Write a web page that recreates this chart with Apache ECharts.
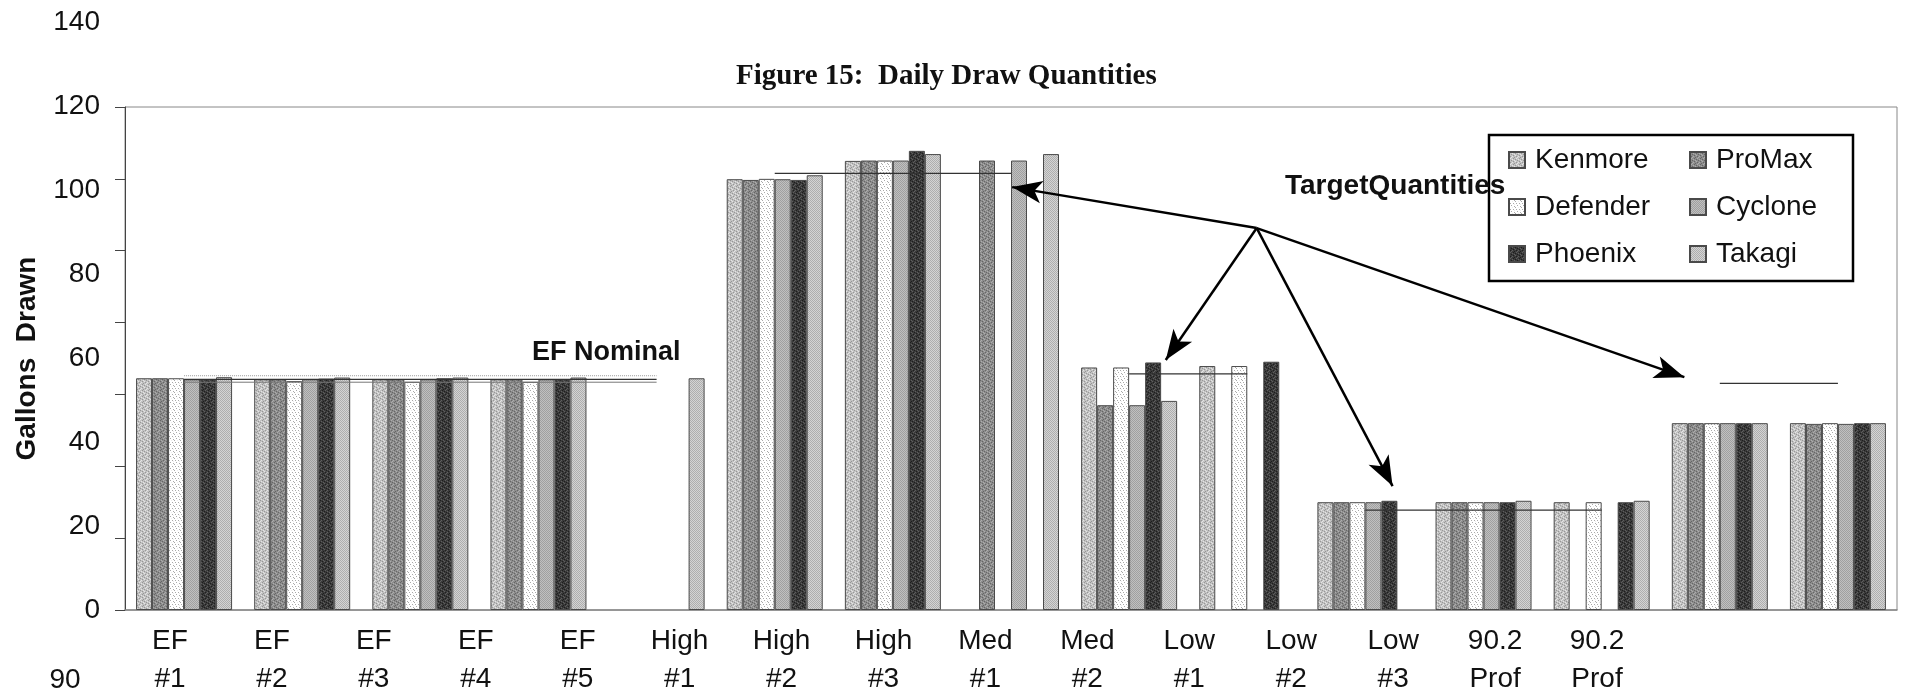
<!DOCTYPE html>
<html>
<head>
<meta charset="utf-8">
<title>Daily Draw Quantities</title>
<script src="https://cdn.jsdelivr.net/npm/echarts@6/dist/echarts.min.js"></script>
<style>
  html, body { margin: 0; padding: 0; background: #fff; }
  #chart { width: 1909px; height: 700px; }
</style>
</head>
<body>
<div id="chart"></div>
<script>
// test names, as printed under the axis
var categories = ['EF\n#1', 'EF\n#2', 'EF\n#3', 'EF\n#4', 'EF\n#5', 'High\n#1', 'High\n#2', 'High\n#3',
  'Med\n#1', 'Med\n#2', 'Low\n#1', 'Low\n#2', 'Low\n#3', '90.2\nProf', '90.2\nProf'];

// gallons drawn per heater
var kenmore  = [64.5, 64.2, 64.2, 64.2, null, 119.9, 125.0, null, 67.5, 67.9, 30.0, 30.0, 30.0, 52.0, 52.0];
var promax   = [64.5, 64.2, 64.2, 64.2, null, 119.7, 125.1, 125.1, 57.0, null, 30.0, 30.0, null, 52.0, 51.8];
var defender = [64.5, 63.7, 63.5, 63.5, null, 120.0, 125.1, null, 67.5, 67.9, 30.0, 30.0, 30.0, 52.0, 52.0];
var cyclone  = [64.2, 64.2, 64.2, 64.2, null, 119.9, 125.1, 125.1, 57.0, null, 30.0, 30.0, null, 52.0, 51.8];
var phoenix  = [64.2, 64.4, 64.5, 64.2, null, 119.7, 127.8, null, 68.9, 69.1, 30.4, 30.0, 30.0, 52.0, 52.0];
var takagi   = [64.8, 64.7, 64.7, 64.7, 64.5, 121.0, 126.9, 126.9, 58.2, null, null, 30.4, 30.4, 52.0, 52.0];

// target quantity lines (category index from / to, gallons)
var targetFrom  = [0, 0, 0, 5, 8, 10, 13];
var targetTo    = [4, 4, 4, 7, 9, 12, 14];
var targetValue = [65.2, 64.2, 63.4, 121.5, 65.7, 27.8, 63.1];

// annotation arrows, in axis units (x counted in categories)
var arrowFrom = [9.58, 106.3];
var arrowTipX = [7.51, 8.81, 10.73, 13.20];
var arrowTipY = [117.7, 69.6, 34.5, 64.8];

var yTicks = [0, 140, 20];

// small repeating tile to mimic the stippled print fills
function tile(pal, map) {
  var n = map.length;
  var c = document.createElement('canvas');
  c.width = n; c.height = n;
  var g = c.getContext('2d');
  for (var y = 0; y < n; y++) {
    for (var x = 0; x < n; x++) {
      g.fillStyle = pal[map[y][x]];
      g.fillRect(x, y, 1, 1);
    }
  }
  return { image: c, repeat: 'repeat' };
}

var stipple = [
  [0, 1, 0, 0, 2, 0],
  [2, 0, 0, 1, 0, 0],
  [0, 0, 2, 0, 0, 1],
  [1, 0, 0, 0, 2, 0],
  [0, 2, 0, 1, 0, 0],
  [0, 0, 1, 0, 0, 2]
];
var checker = [
  [0, 1, 0, 1, 0, 1],
  [1, 0, 1, 0, 1, 0],
  [0, 1, 0, 1, 0, 1],
  [1, 0, 1, 0, 1, 0],
  [0, 1, 0, 1, 0, 1],
  [1, 0, 1, 0, 1, 0]
];
var sparse = [
  [0, 0, 2, 0, 0, 0],
  [0, 0, 0, 0, 0, 2],
  [2, 0, 0, 1, 0, 0],
  [0, 0, 0, 0, 0, 0],
  [0, 2, 0, 0, 2, 0],
  [0, 0, 0, 0, 0, 1]
];

var fills = [
  tile(['#c2c2c2', '#e4e4e4', '#979797'], stipple),
  tile(['#8c8c8c', '#adadad', '#666666'], stipple),
  tile(['#ffffff', '#ececec', '#aaaaaa'], sparse),
  tile(['#a0a0a0', '#c0c0c0', '#888888'], checker),
  tile(['#3a3a3a', '#5e5e5e', '#1e1e1e'], stipple),
  tile(['#aeaeae', '#d4d4d4', '#989898'], checker)
];

var names = ['Kenmore', 'ProMax', 'Defender', 'Cyclone', 'Phoenix', 'Takagi'];
var values = [kenmore, promax, defender, cyclone, phoenix, takagi];

var series = [];
names.forEach(function (n, i) {
  series.push({
    name: n,
    type: 'bar',
    xAxisIndex: 0,
    yAxisIndex: 0,
    barWidth: 16,
    barGap: '0%',
    data: values[i],
    itemStyle: { color: fills[i], borderColor: '#4a4a4a', borderWidth: 1 }
  });
});

var lineLook = [
  { color: '#999', width: 1, type: 'dotted' },
  { color: '#333', width: 1.2, type: 'solid' },
  { color: '#777', width: 1, type: 'solid' },
  { color: '#333', width: 1.2, type: 'solid' },
  { color: '#333', width: 1.2, type: 'solid' },
  { color: '#333', width: 1.2, type: 'solid' },
  { color: '#333', width: 1.2, type: 'solid' }
];
targetValue.forEach(function (v, i) {
  series.push({
    name: 'target' + i,
    type: 'line',
    xAxisIndex: 0,
    yAxisIndex: 0,
    symbol: 'none',
    silent: true,
    z: 3,
    lineStyle: lineLook[i],
    data: [[targetFrom[i], v], [targetTo[i], v]]
  });
});

series.push({
  name: 'arrows',
  type: 'line',
  xAxisIndex: 1,
  yAxisIndex: 0,
  data: [],
  markLine: {
    silent: true,
    symbol: ['none', 'arrow'],
    symbolSize: [17, 30],
    label: { show: false },
    lineStyle: { color: '#000', width: 2.5, type: 'solid' },
    data: arrowTipX.map(function (x, i) {
      return [{ coord: arrowFrom }, { coord: [x, arrowTipY[i]] }];
    })
  }
});

var chart = echarts.init(document.getElementById('chart'), null, { renderer: 'canvas' });

chart.setOption({
  animation: false,
  backgroundColor: '#fff',
  textStyle: { fontFamily: 'Liberation Sans, Arial, sans-serif' },
  title: {
    text: 'Figure 15:  Daily Draw Quantities',
    left: 731,
    top: 57,
    textStyle: { fontFamily: 'Liberation Serif, Times New Roman, serif', fontWeight: 'bold', fontSize: 29, color: '#111' }
  },
  legend: [{
    data: ['Kenmore', 'Defender', 'Phoenix'],
    orient: 'vertical',
    left: 1508,
    top: 145,
    padding: 0,
    itemWidth: 16,
    itemHeight: 16,
    itemGap: 17,
    icon: 'rect',
    textStyle: { fontSize: 28, color: '#111', lineHeight: 30, padding: [0, 0, 0, 5] }
  }, {
    data: ['ProMax', 'Cyclone', 'Takagi'],
    orient: 'vertical',
    left: 1689,
    top: 145,
    padding: 0,
    itemWidth: 16,
    itemHeight: 16,
    itemGap: 17,
    icon: 'rect',
    textStyle: { fontSize: 28, color: '#111', lineHeight: 30, padding: [0, 0, 0, 5] }
  }],
  grid: [
    { left: 125, right: 12, top: 107, bottom: 90, show: true, borderColor: '#888', borderWidth: 1 },
    { left: 119, right: 261, top: 107, bottom: 90 },
    { left: 125, right: 12, top: 22, bottom: 90 }
  ],
  xAxis: [
    {
      type: 'category', gridIndex: 0, data: categories,
      axisLine: { lineStyle: { color: '#888', width: 1.5 } },
      axisTick: { length: 8, lineStyle: { color: '#777' } },
      axisLabel: { show: false }
    },
    { type: 'value', gridIndex: 0, min: 0, max: 15, show: false },
    {
      type: 'category', gridIndex: 1, data: categories,
      axisLine: { show: false }, axisTick: { show: false },
      axisLabel: { fontSize: 28, color: '#111', lineHeight: 38, margin: 12, interval: 0 }
    },
    { type: 'value', gridIndex: 2, show: false }
  ],
  yAxis: [
    {
      type: 'value', gridIndex: 0, min: yTicks[0], max: yTicks[1], interval: yTicks[2],
      name: 'Gallons  Drawn', nameLocation: 'middle', nameGap: 84,
      nameTextStyle: { fontSize: 28, fontWeight: 'bold', color: '#111' },
      axisLine: { show: true, lineStyle: { color: '#444' } },
      axisTick: { show: true, length: 10, lineStyle: { color: '#444' } },
      axisLabel: { show: false },
      splitLine: { show: false }
    },
    { type: 'value', gridIndex: 1, show: false },
    {
      type: 'value', gridIndex: 2, min: yTicks[0], max: yTicks[1], interval: yTicks[2],
      axisLine: { show: false }, axisTick: { show: false }, splitLine: { show: false },
      axisLabel: { fontSize: 28, color: '#111', margin: 25 }
    }
  ],
  graphic: [
    { type: 'rect', z: 0, shape: { x: 1489, y: 135, width: 364, height: 146 },
      style: { fill: '#fff', stroke: '#000', lineWidth: 2.5 } },
    { type: 'text', z: 10, x: 532, y: 353,
      style: { text: 'EF Nominal', font: 'bold 27px Liberation Sans, Arial, sans-serif', fill: '#111', verticalAlign: 'middle' } },
    { type: 'text', z: 10, x: 1285, y: 186,
      style: { text: 'TargetQuantities', font: 'bold 28px Liberation Sans, Arial, sans-serif', fill: '#111', verticalAlign: 'middle' } },
    { type: 'text', z: 10, x: 65, y: 680,
      style: { text: '90', font: '28px Liberation Sans, Arial, sans-serif', fill: '#111', align: 'center', verticalAlign: 'middle' } }
  ],
  series: series
});
</script>
</body>
</html>
